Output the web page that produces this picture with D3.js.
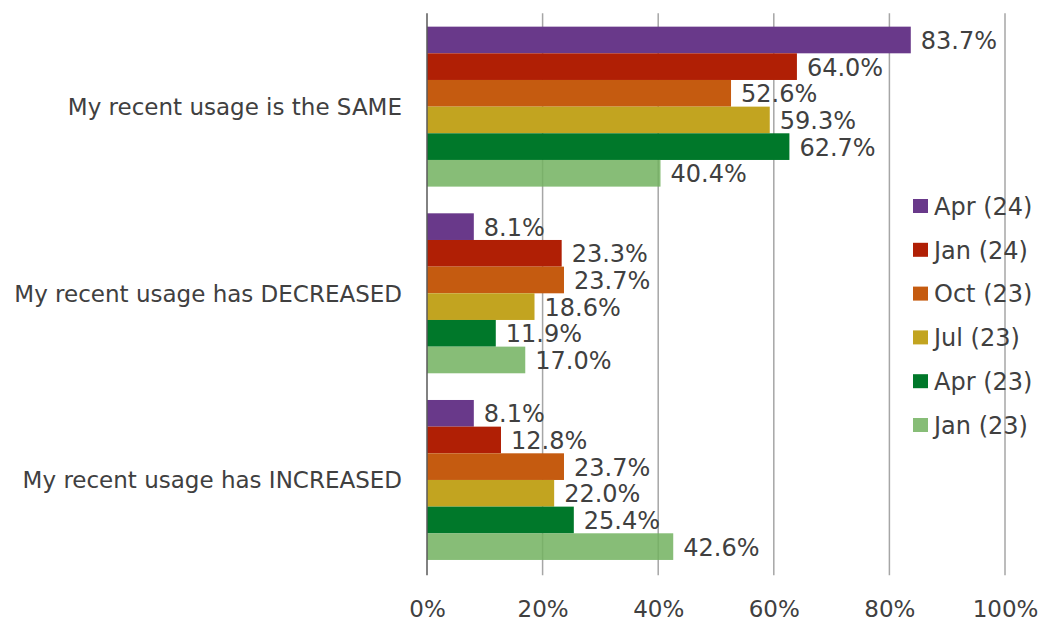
<!DOCTYPE html>
<html>
<head>
<meta charset="utf-8">
<script src="https://cdn.jsdelivr.net/npm/d3@7"></script>
<style>
  html, body { margin: 0; padding: 0; background: #ffffff; }
  svg { display: block; font-family: "DejaVu Sans", Verdana, sans-serif; }
</style>
</head>
<body>
<svg id="chart" width="1043" height="621"></svg>
<script>
const categories = ["My recent usage is the SAME", "My recent usage has DECREASED", "My recent usage has INCREASED"];
const seriesNames = ["Apr (24)", "Jan (24)", "Oct (23)", "Jul (23)", "Apr (23)", "Jan (23)"];
const seriesColors = ["#69398a", "#b01f05", "#c55b10", "#c2a420", "#00782a", "#72b15f"];
const seriesOpacity = [1, 1, 1, 1, 1, 0.85];
const april24 = [83.7, 8.1, 8.1];
const jan24 = [64.0, 23.3, 12.8];
const oct23 = [52.6, 23.7, 23.7];
const jul23 = [59.3, 18.6, 22.0];
const apr23 = [62.7, 11.9, 25.4];
const jan23 = [40.4, 17.0, 42.6];
const seriesValues = [april24, jan24, oct23, jul23, apr23, jan23];
const xTicks = [0, 20, 40, 60, 80, 100];

(function () {
const svg = d3.select("#chart");
const pLeft = 427, pRight = 1005, pTop = 13.3, pBottom = 573.3;
const textColor = "#404040";
const fontSize = 23;
const labelSize = 24;

const x = d3.scaleLinear().domain([0, 100]).range([pLeft, pRight]);
const y0 = d3.scaleBand().domain(categories).range([pTop, pBottom]).paddingInner(0.143).paddingOuter(0.0715);
const y1 = d3.scaleBand().domain(seriesNames).range([0, y0.bandwidth()]);

// gridlines
svg.append("g").selectAll("line").data(xTicks.filter(d => d > 0)).join("line")
  .attr("x1", d => x(d)).attr("x2", d => x(d))
  .attr("y1", pTop).attr("y2", pBottom + 2)
  .attr("stroke", "#a6a6a6").attr("stroke-width", 1.5);

// bars
const groups = svg.append("g").selectAll("g").data(categories).join("g")
  .attr("transform", d => `translate(0,${y0(d)})`);

groups.each(function(cat, ci) {
  const g = d3.select(this);
  seriesNames.forEach((s, si) => {
    const v = seriesValues[si][ci];
    g.append("rect")
      .attr("x", x(0))
      .attr("y", y1(s))
      .attr("width", x(v) - x(0))
      .attr("height", y1.bandwidth())
      .attr("fill", seriesColors[si])
      .attr("fill-opacity", seriesOpacity[si]);
  });
  seriesNames.forEach((s, si) => {
    const v = seriesValues[si][ci];
    g.append("text")
      .attr("x", x(v) + 10)
      .attr("y", y1(s) + y1.bandwidth() / 2)
      .attr("dy", "0.38em")
      .attr("font-size", labelSize)
      .attr("fill", textColor)
      .text(v.toFixed(1) + "%");
  });
});

// vertical axis line at 0
svg.append("line")
  .attr("x1", x(0)).attr("x2", x(0))
  .attr("y1", pTop).attr("y2", pBottom + 2)
  .attr("stroke", "#595959").attr("stroke-width", 1.5);

// category labels
svg.append("g").selectAll("text").data(categories).join("text")
  .attr("x", 402)
  .attr("y", d => y0(d) + y0.bandwidth() / 2)
  .attr("dy", "0.36em")
  .attr("text-anchor", "end")
  .attr("font-size", fontSize)
  .attr("fill", textColor)
  .text(d => d);

// x axis labels
const xAxis = d3.axisBottom(x).tickValues(xTicks).tickFormat(d => d + "%").tickSize(0).tickPadding(0);
const ax = svg.append("g").attr("transform", `translate(0,${pBottom})`).call(xAxis);
ax.select(".domain").remove();
ax.selectAll("text")
  .attr("y", 44)
  .attr("dy", 0)
  .attr("font-size", fontSize)
  .attr("font-family", "DejaVu Sans, Verdana, sans-serif")
  .attr("fill", textColor);

// legend
const legend = svg.append("g").selectAll("g").data(seriesNames).join("g")
  .attr("transform", (d, i) => `translate(913,${206 + i * 43.8})`);
legend.append("rect")
  .attr("x", 0).attr("y", -7).attr("width", 15).attr("height", 14)
  .attr("fill", (d, i) => seriesColors[i])
  .attr("fill-opacity", (d, i) => seriesOpacity[i]);
legend.append("text")
  .attr("x", 21).attr("y", 0).attr("dy", "0.37em")
  .attr("font-size", labelSize)
  .attr("fill", textColor)
  .text(d => d);
})();
</script>
</body>
</html>
